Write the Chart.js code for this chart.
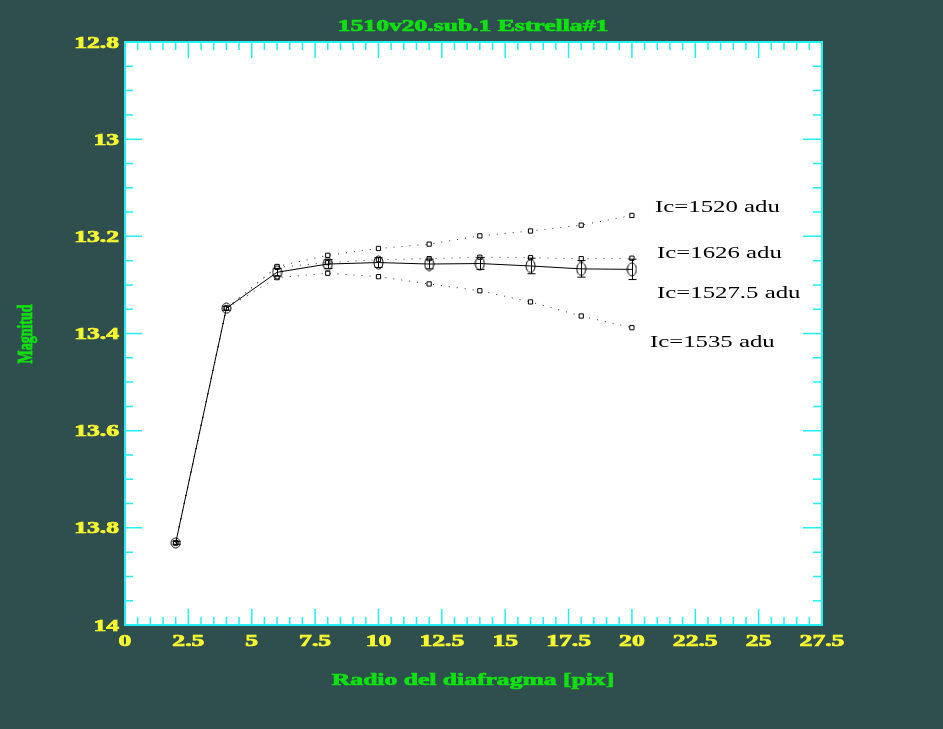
<!DOCTYPE html>
<html>
<head>
<meta charset="utf-8">
<script src="https://cdn.jsdelivr.net/npm/chart.js@4.4.0/dist/chart.umd.min.js"></script>
<style>
  html, body { margin: 0; padding: 0; background: #2f4f4f; }
  #chart { display: block; }
</style>
</head>
<body>
<canvas id="chart" width="943" height="729"></canvas>
<script>
// ------------------------- DATA -------------------------------------

  // aperture radius (pix)
  var xValues = [2, 4, 6, 8, 10, 12, 14, 16, 18, 20];

  // magnitudes for each sky level (Ic)
  var magIc1527 = [13.831, 13.348, 13.274, 13.257, 13.254, 13.257, 13.256, 13.261, 13.267, 13.268];
  var errIc1527 = [0.003, 0.004, 0.008, 0.009, 0.010, 0.010, 0.012, 0.016, 0.017, 0.021];
  var magIc1520 = [13.831, 13.348, 13.262, 13.239, 13.225, 13.216, 13.199, 13.189, 13.177, 13.157];
  var magIc1626 = [13.831, 13.348, 13.264, 13.254, 13.248, 13.246, 13.243, 13.244, 13.246, 13.245];
  var magIc1535 = [13.831, 13.348, 13.285, 13.276, 13.283, 13.298, 13.312, 13.335, 13.364, 13.388];

  // axis ticks
  var xTickValues = [0, 2.5, 5, 7.5, 10, 12.5, 15, 17.5, 20, 22.5, 25, 27.5];
  var xTickLabels = ['0', '2.5', '5', '7.5', '10', '12.5', '15', '17.5', '20', '22.5', '25', '27.5'];
  var yTickValues = [12.8, 13, 13.2, 13.4, 13.6, 13.8, 14];
  var yTickLabels = ['12.8', '13', '13.2', '13.4', '13.6', '13.8', '14'];

  // curve labels (placed in data coords)
  var curveLabels = ['Ic=1520 adu', 'Ic=1626 adu', 'Ic=1527.5 adu', 'Ic=1535 adu'];
  var curveLabelX = [20.91, 20.99, 20.99, 20.71];
  var curveLabelY = [13.150, 13.245, 13.327, 13.428];

// ------------------------- STYLE ------------------------------------

  var frameColor = '#22f0f0';
  var tickTextColor = '#f8f830';
  var titleColor = '#10e010';
  var serif = '"Liberation Serif", "Times New Roman", serif';
  var stretch = 1.6;

  // open ellipse markers for the main curve
  function ellipseMarker(w, h) {
    var c = document.createElement('canvas');
    c.width = w + 2;
    c.height = h + 2;
    var g = c.getContext('2d');
    g.strokeStyle = '#000';
    g.lineWidth = 1;
    g.beginPath();
    g.ellipse(c.width / 2, c.height / 2, w / 2, h / 2, 0, 0, Math.PI * 2);
    g.stroke();
    return c;
  }
  var smallEllipse = ellipseMarker(9, 10);
  var bigEllipse = ellipseMarker(9, 13);

  // draws text stretched horizontally (the reference fonts are wide); heavy adds a thin outline
  function wideText(ctx, str, x, y, align, font, color, sx, heavy) {
    ctx.save();
    ctx.font = font;
    ctx.fillStyle = color;
    ctx.strokeStyle = color;
    ctx.lineWidth = 0.7;
    ctx.textAlign = align;
    ctx.textBaseline = 'alphabetic';
    ctx.translate(x, y);
    ctx.scale(sx, 1);
    ctx.fillText(str, 0, 0);
    if (heavy) ctx.strokeText(str, 0, 0);
    ctx.restore();
  }

// ------------------------- PLUGINS ----------------------------------

  // white plot area
  var plotBackground = {
    id: 'plotBackground',
    beforeDraw: function(chart) {
      var ctx = chart.ctx, a = chart.chartArea;
      ctx.save();
      ctx.fillStyle = '#ffffff';
      ctx.fillRect(a.left, a.top, a.right - a.left, a.bottom - a.top);
      ctx.restore();
    }
  };

  // error bars on the Ic=1527.5 curve
  var errorBars = {
    id: 'errorBars',
    afterDatasetsDraw: function(chart) {
      var ctx = chart.ctx, xs = chart.scales.x, ys = chart.scales.y;
      ctx.save();
      ctx.strokeStyle = '#000';
      ctx.lineWidth = 1;
      for (var i = 0; i < xValues.length; i++) {
        var px = Math.round(xs.getPixelForValue(xValues[i])) + 0.5;
        var top = ys.getPixelForValue(magIc1527[i] - errIc1527[i]);
        var bot = ys.getPixelForValue(magIc1527[i] + errIc1527[i]);
        ctx.beginPath();
        ctx.moveTo(px, top); ctx.lineTo(px, bot);
        ctx.moveTo(px - 4, top); ctx.lineTo(px + 4, top);
        ctx.moveTo(px - 4, bot); ctx.lineTo(px + 4, bot);
        ctx.stroke();
      }
      ctx.restore();
    }
  };

  // cyan frame with inward ticks, yellow tick labels, green titles, curve labels
  var frameAndText = {
    id: 'frameAndText',
    afterDraw: function(chart) {
      var ctx = chart.ctx, a = chart.chartArea, xs = chart.scales.x, ys = chart.scales.y;
      ctx.save();
      ctx.strokeStyle = frameColor;
      ctx.lineWidth = 2;
      ctx.strokeRect(a.left, a.top, a.right - a.left, a.bottom - a.top);

      ctx.lineWidth = 1.5;
      ctx.beginPath();
      // x ticks, minor every 0.5
      for (var k = 0; k <= 55; k++) {
        var px = xs.getPixelForValue(k * 0.5);
        var len = (k % 5 === 0) ? 16 : 8;
        ctx.moveTo(px, a.bottom); ctx.lineTo(px, a.bottom - len);
        ctx.moveTo(px, a.top); ctx.lineTo(px, a.top + len);
      }
      // y ticks, minor every 0.05
      for (var j = 0; j <= 24; j++) {
        var py = ys.getPixelForValue(12.8 + j * 0.05);
        var lenL = (j % 4 === 0) ? 17 : 8;
        var lenR = (j % 4 === 0) ? 19 : 9;
        ctx.moveTo(a.left, py); ctx.lineTo(a.left + lenL, py);
        ctx.moveTo(a.right, py); ctx.lineTo(a.right - lenR, py);
      }
      ctx.stroke();
      ctx.restore();

      var tickFont = 'bold 16px ' + serif;
      for (var i = 0; i < xTickValues.length; i++) {
        wideText(ctx, xTickLabels[i], xs.getPixelForValue(xTickValues[i]), a.bottom + 21,
                 'center', tickFont, tickTextColor, stretch, true);
      }
      for (var m = 0; m < yTickValues.length; m++) {
        wideText(ctx, yTickLabels[m], a.left - 6, ys.getPixelForValue(yTickValues[m]) + 5.5,
                 'right', tickFont, tickTextColor, stretch, true);
      }

      // titles
      wideText(ctx, '1510v20.sub.1 Estrella#1', 473, 31, 'center', 'bold 16px ' + serif, titleColor, stretch, true);
      wideText(ctx, 'Radio del diafragma [pix]', 473, 685, 'center', 'bold 16px ' + serif, titleColor, stretch, true);

      ctx.save();
      ctx.font = 'bold 14px ' + serif;
      ctx.fillStyle = titleColor;
      ctx.strokeStyle = titleColor;
      ctx.lineWidth = 0.6;
      ctx.textAlign = 'center';
      ctx.textBaseline = 'middle';
      ctx.translate(27, 334);
      ctx.rotate(-Math.PI / 2);
      ctx.scale(1, 1.5);
      ctx.fillText('Magnitud', 0, 0);
      ctx.strokeText('Magnitud', 0, 0);
      ctx.restore();

      // labels next to each curve
      for (var n = 0; n < curveLabels.length; n++) {
        wideText(ctx, curveLabels[n], xs.getPixelForValue(curveLabelX[n]), ys.getPixelForValue(curveLabelY[n]),
                 'left', '16px ' + serif, '#000000', 1.55, false);
      }
    }
  };

// ------------------------- CHART ------------------------------------

  function toPoints(ys) {
    return xValues.map(function(x, i) { return { x: x, y: ys[i] }; });
  }

  function dottedSet(label, ys) {
    return {
      label: label,
      data: toPoints(ys),
      borderColor: '#333333',
      borderWidth: 1,
      borderDash: [1, 7],
      pointStyle: 'rect',
      pointRadius: 3,
      pointBorderWidth: 1,
      pointBorderColor: '#000000',
      pointBackgroundColor: '#ffffff',
      tension: 0
    };
  }

  var chart = new Chart(document.getElementById('chart'), {
    type: 'line',
    data: {
      datasets: [
        {
          label: 'Ic=1527.5 adu',
          data: toPoints(magIc1527),
          borderColor: '#000000',
          borderWidth: 1,
          pointStyle: xValues.map(function(x, i) { return i < 2 ? smallEllipse : bigEllipse; }),
          tension: 0
        },
        dottedSet('Ic=1520 adu', magIc1520),
        dottedSet('Ic=1626 adu', magIc1626),
        dottedSet('Ic=1535 adu', magIc1535)
      ]
    },
    options: {
      responsive: false,
      devicePixelRatio: 1,
      animation: false,
      layout: { padding: { left: 125, top: 42, right: 121, bottom: 104 } },
      plugins: { legend: { display: false }, tooltip: { enabled: false } },
      scales: {
        x: { type: 'linear', min: 0, max: 27.5, display: false },
        y: { type: 'linear', min: 12.8, max: 14, reverse: true, display: false }
      }
    },
    plugins: [plotBackground, errorBars, frameAndText]
  });
</script>
</body>
</html>
